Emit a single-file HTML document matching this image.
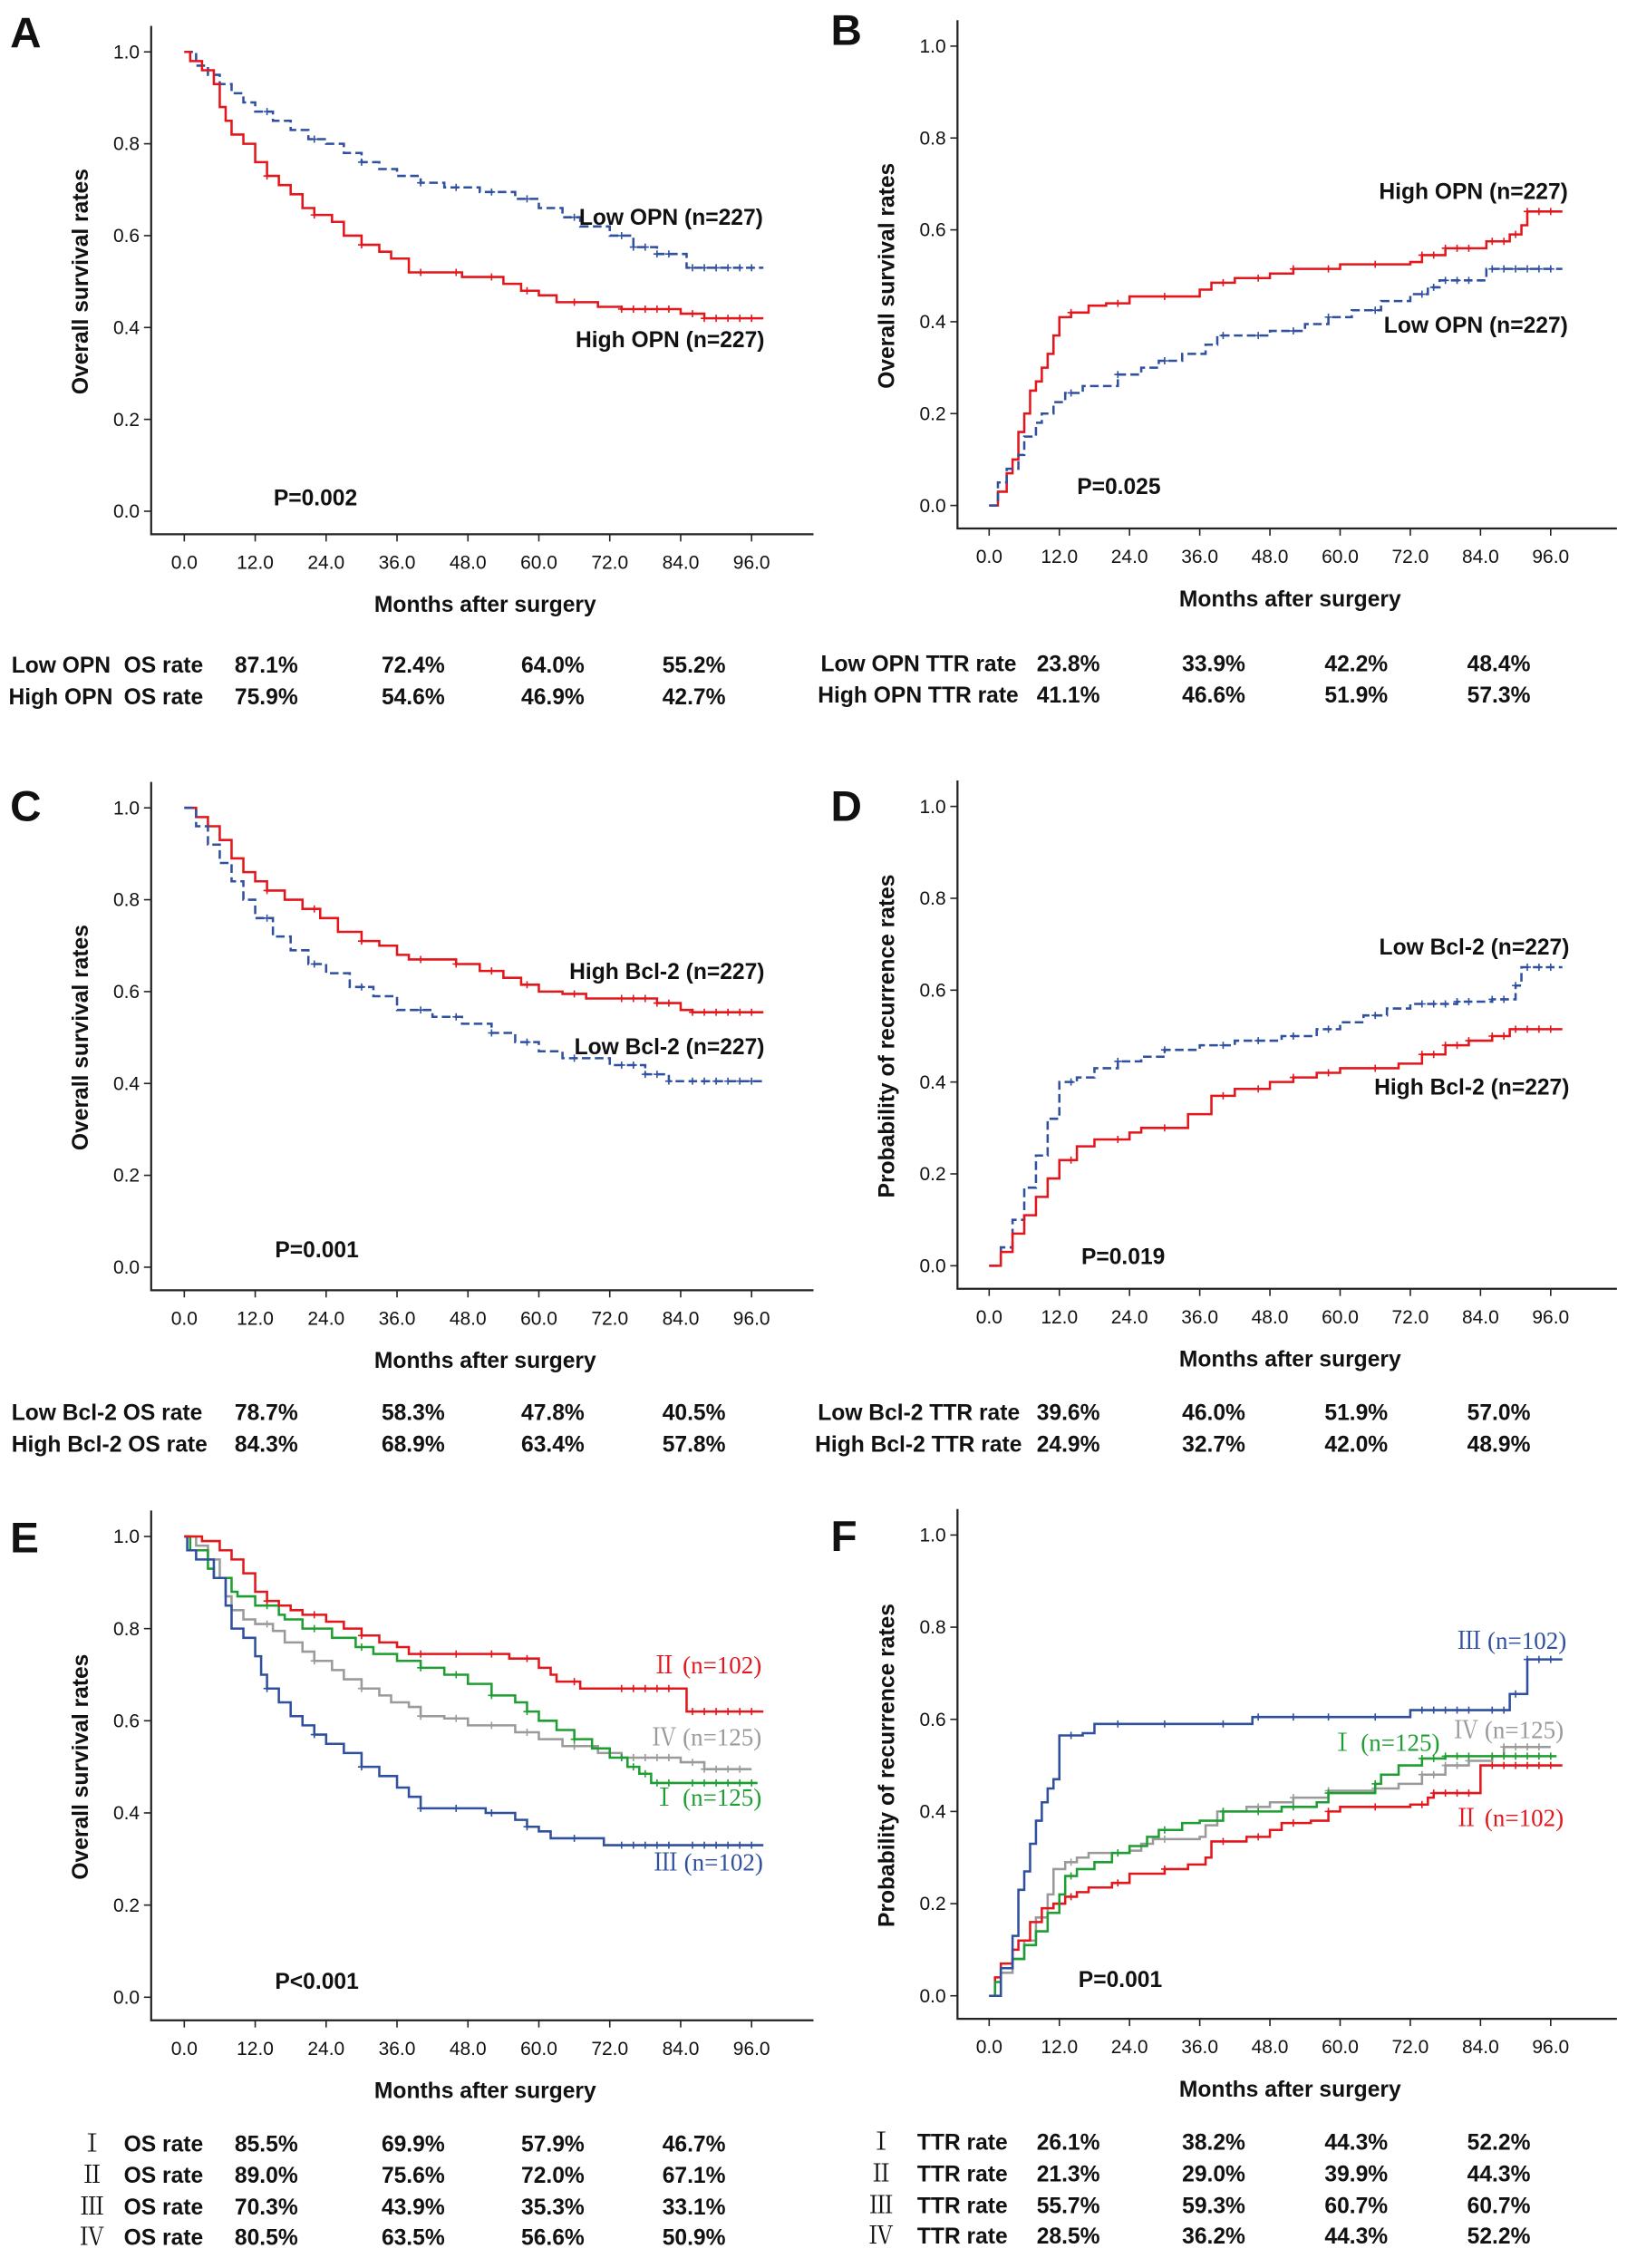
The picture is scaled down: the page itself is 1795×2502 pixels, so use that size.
<!DOCTYPE html>
<html><head><meta charset="utf-8"><style>
html,body{margin:0;padding:0;background:#fff;}
svg{display:block;}
text{font-family:"Liberation Sans",Arial,sans-serif;fill:#111;}
.tk{font-size:13.2px;}
.b{font-weight:bold;}
.rom{font-family:"Liberation Serif","Noto Serif CJK SC",serif;font-weight:normal;}
</style></head><body>
<svg id="fig" width="1795" height="2502" viewBox="0 0 1130 1575" xmlns="http://www.w3.org/2000/svg"></svg>
<script>
// ---------- data ----------
const xTicks = [0,12,24,36,48,60,72,84,96];
const xTickLabels = ["0.0","12.0","24.0","36.0","48.0","60.0","72.0","84.0","96.0"];
const yTicks = [0,0.2,0.4,0.6,0.8,1.0];
const yTickLabels = ["0.0","0.2","0.4","0.6","0.8","1.0"];

const aLowT = [0,2,4,6,8,10,12,15,18,21,24,27,30,33,36,40,44,50,56,60,64,67,72,76,80,85,98];
const aLowV = [1,0.97,0.95,0.93,0.91,0.89,0.87,0.85,0.83,0.81,0.80,0.78,0.76,0.745,0.73,0.715,0.705,0.695,0.68,0.66,0.64,0.62,0.60,0.575,0.56,0.53,0.53];
const aHighT = [0,1,3,5,6,7,8,10,12,14,16,18,20,22,25,27,30,33,35,38,47,54,57,60,63,70,74,84,88,98];
const aHighV = [1,0.98,0.96,0.93,0.88,0.85,0.82,0.80,0.76,0.73,0.71,0.69,0.66,0.645,0.63,0.60,0.58,0.565,0.55,0.52,0.51,0.495,0.48,0.47,0.455,0.445,0.44,0.43,0.42,0.42];

const bHighT = [0,1.5,3,4,5,6,7,8,9,10,11,12,14,17,20,24,36,38,42,48,52,60,72,74,78,85,89,91,92,98];
const bHighV = [0,0.03,0.07,0.10,0.16,0.20,0.25,0.27,0.30,0.33,0.37,0.41,0.42,0.435,0.44,0.455,0.47,0.485,0.495,0.505,0.515,0.525,0.53,0.545,0.56,0.575,0.59,0.61,0.64,0.64];
const bLowT = [0,1.5,3,5,6,8,9,11,13,16,22,26,29,33,37,39,48,54,58,62,67,72,75,77,85,98];
const bLowV = [0,0.05,0.08,0.11,0.15,0.18,0.20,0.225,0.245,0.26,0.285,0.30,0.315,0.33,0.35,0.37,0.38,0.395,0.41,0.425,0.445,0.46,0.475,0.49,0.515,0.515];

const cHighT = [0,2,4,6,8,10,12,14,17,20,23,26,30,33,36,38,46,50,54,57,60,64,68,80,84,86,98];
const cHighV = [1,0.98,0.96,0.93,0.89,0.86,0.84,0.82,0.80,0.78,0.76,0.73,0.71,0.70,0.68,0.67,0.66,0.645,0.63,0.615,0.60,0.595,0.585,0.575,0.56,0.555,0.555];
const cLowT = [0,2,4,6,8,10,12,15,18,21,24,28,32,36,42,47,52,56,60,64,72,78,82,98];
const cLowV = [1,0.96,0.92,0.88,0.84,0.80,0.76,0.72,0.69,0.66,0.64,0.61,0.59,0.56,0.545,0.53,0.51,0.49,0.47,0.455,0.44,0.42,0.405,0.405];

const dLowT = [0,2,4,6,8,10,12,15,18,22,26,30,36,42,50,56,60,64,68,72,80,86,90,91,98];
const dLowV = [0,0.04,0.10,0.17,0.24,0.32,0.40,0.41,0.43,0.445,0.455,0.47,0.48,0.49,0.50,0.515,0.53,0.545,0.56,0.57,0.575,0.58,0.61,0.65,0.65];
const dHighT = [0,2,4,6,8,10,12,15,18,24,26,34,38,42,48,52,56,60,70,74,78,82,86,89,98];
const dHighV = [0,0.03,0.07,0.11,0.15,0.19,0.23,0.26,0.275,0.29,0.30,0.33,0.37,0.385,0.40,0.41,0.42,0.43,0.44,0.46,0.48,0.49,0.50,0.515,0.515];

const e2T = [0,3,6,8,10,12,14,16,18,20,24,27,30,33,36,38,55,60,62,63,67,85,98];
const e2V = [1,0.99,0.97,0.95,0.92,0.88,0.86,0.85,0.84,0.83,0.815,0.80,0.785,0.77,0.76,0.745,0.735,0.715,0.70,0.685,0.67,0.62,0.62];
const e1T = [0,1,4,5,8,9,12,16,17,20,25,29,32,36,40,44,48,52,56,58,60,63,66,69,72,75,77,79,97];
const e1V = [1,0.97,0.93,0.91,0.88,0.87,0.85,0.83,0.82,0.80,0.78,0.76,0.745,0.73,0.715,0.70,0.68,0.655,0.64,0.62,0.60,0.58,0.56,0.54,0.52,0.50,0.485,0.465,0.465];
const e4T = [0,2,4,6,7,8,10,12,15,17,20,22,25,27,30,33,35,38,40,44,48,56,60,64,70,74,84,88,96];
const e4V = [1,0.98,0.95,0.91,0.87,0.84,0.82,0.81,0.795,0.77,0.75,0.73,0.71,0.69,0.67,0.655,0.64,0.63,0.61,0.605,0.59,0.575,0.56,0.545,0.53,0.52,0.51,0.495,0.495];
const e3T = [0,0.5,2,5,7,8,10,12,13,14,16,18,20,22,24,27,30,33,36,38,40,51,56,58,60,62,71,98];
const e3V = [1,0.97,0.95,0.91,0.85,0.80,0.78,0.74,0.70,0.67,0.64,0.61,0.59,0.57,0.55,0.53,0.50,0.48,0.455,0.435,0.41,0.40,0.385,0.37,0.36,0.345,0.33,0.33];

const f3T = [0,2,4,5,6,7,8,9,10,11,12,16,18,45,72,89,92,98];
const f3V = [0,0.06,0.13,0.23,0.27,0.33,0.38,0.42,0.45,0.47,0.565,0.57,0.59,0.605,0.62,0.655,0.73,0.73];
const f1T = [0,1,2,4,6,8,10,12,13,15,18,21,24,27,29,33,36,40,50,56,58,66,67,70,74,78,97];
const f1V = [0,0.03,0.06,0.08,0.11,0.14,0.18,0.22,0.26,0.275,0.29,0.31,0.325,0.345,0.36,0.375,0.38,0.40,0.41,0.42,0.44,0.46,0.48,0.50,0.515,0.52,0.52];
const f4T = [0,2,4,6,8,10,11,13,15,17,24,26,28,36,37,39,44,48,52,58,66,70,74,78,82,86,88,96];
const f4V = [0,0.05,0.08,0.12,0.17,0.22,0.275,0.29,0.30,0.31,0.315,0.33,0.34,0.345,0.37,0.40,0.41,0.42,0.43,0.445,0.45,0.46,0.48,0.50,0.51,0.52,0.54,0.54];
const f2T = [0,1,2,4,5,7,9,11,13,15,17,21,24,30,34,37,38,44,48,50,55,58,60,72,75,76,84,98];
const f2V = [0,0.04,0.07,0.10,0.12,0.16,0.19,0.20,0.215,0.225,0.235,0.245,0.265,0.275,0.285,0.30,0.335,0.345,0.36,0.375,0.38,0.40,0.41,0.415,0.43,0.44,0.50,0.50];

const censorA = [14,22,30,40,46,52,58,66,74,76,78,80,82,86,88,90,92,94,96];

// ---------- drawing ----------
const NS = "http://www.w3.org/2000/svg";
const svg = document.getElementById("fig");
function el(tag, attrs, parent){
  const e = document.createElementNS(NS, tag);
  for (const k in attrs) e.setAttribute(k, attrs[k]);
  (parent||svg).appendChild(e);
  return e;
}
function txt(s, x, y, cls, anchor, parent, extra){
  const t = el("text", Object.assign({x:x, y:y, class:cls||"", "text-anchor":anchor||"start"}, extra||{}), parent);
  t.textContent = s;
  return t;
}
const RED="#e3161c", BLUE="#2f4f9f", GREEN="#1e9e32", GRAY="#9a9a9a";
const FS = "15.5";

function makePanel(p){
  const g = el("g", {});
  
  
  const sx = t => p.x0 + (p.x96 - p.x0) * t / 96;
  const sy = v => p.y0 + (p.y1 - p.y0) * v;
  const ax = el("path", {d:`M${p.ax} ${p.top} V${p.axY} H${p.right}`, fill:"none", stroke:"#222", "stroke-width":1.4}, g);
  
  
  yTicks.forEach((v,i)=>{
    el("line",{x1:p.ax-5,x2:p.ax,y1:sy(v),y2:sy(v),stroke:"#222","stroke-width":1},g);
    const t = txt(yTickLabels[i], p.ax-8, sy(v)+4.5, "tk", "end", g);
    
    
  });
  xTicks.forEach((m,i)=>{
    el("line",{x1:sx(m),x2:sx(m),y1:p.axY,y2:p.axY+5,stroke:"#222","stroke-width":1},g);
    const t = txt(xTickLabels[i], sx(m), p.axY+24, "tk", "middle", g);
    
    
  });
  const xt = txt("Months after surgery", (p.ax+p.right)/2+2, p.axY+54, "b", "middle", g, {"font-size":FS});
  
  
  const yc = (p.y0+p.y1)/2;
  const yt = txt(p.ytitle, p.ax-44, yc, "b", "middle", g, {"font-size":FS, transform:`rotate(-90 ${p.ax-44} ${yc})`});
  
  
  const lt = txt(p.letter, p.letterX, p.letterY, "b", "start", g, {"font-size":"30"});
  
  
  const pv = txt(p.pval, p.pvX, p.pvY, "b", "start", g, {"font-size":FS});
  
  
  p.series.forEach(s=>{
    let d = `M${sx(s.t[0])} ${sy(s.v[0])}`;
    for (let i=1;i<s.t.length;i++){
      d += ` H${sx(s.t[i])} V${sy(s.v[i])}`;
    }
    const path = el("path",{d:d, fill:"none", stroke:s.color, "stroke-width":1.6}, g);
    if (s.dash) path.setAttribute("stroke-dasharray","6 3");
    
    
    censorA.forEach(c=>{
      if (c >= s.t[s.t.length-1]) return;
      let v = s.v[0];
      for (let i=0;i<s.t.length;i++){ if (s.t[i] <= c) v = s.v[i]; }
      const m = el("path",{d:`M${sx(c)-2.5} ${sy(v)} h5 M${sx(c)} ${sy(v)-2.5} v5`, stroke:s.color, "stroke-width":1}, g);
      
      
    });
    const lab = txt(s.label, s.lx, s.ly, s.roman ? "rom" : "b", "end", g, {"font-size": s.roman ? "17" : FS});
    lab.style.fill = s.roman ? s.color : "#111";
    
    
  });
  p.rows.forEach((r,i)=>{
    const y = p.tableY[i];
    if (r.roman){
      const rt = txt(r.roman, r.rx, y, "rom", "middle", g, {"font-size":"17"});
      
      
    }
    const l = txt(r.label, r.lx, y, "b", "start", g, {"font-size":FS});
    
    
    if (r.label2){
      const l2 = txt(r.label2, r.l2x, y, "b", "start", g, {"font-size":FS});
      
      
    }
    r.vals.forEach((v,j)=>{
      const c = txt(v, p.cols[j], y, "b", "start", g, {"font-size":FS});
      
      
    });
  });
}

const L = {ax:105, x0:128, x96:522, right:565, cols:[163,265,362,460]};
const R = {ax:665, x0:687, x96:1077, right:1123, cols:[720,821,920,1019]};

makePanel(Object.assign({}, L, {name:"panel-a", top:18, y1:36, y0:355, axY:371, letter:"A", letterX:7, letterY:33,
  ytitle:"Overall survival rates", pval:"P=0.002", pvX:190, pvY:351,
  series:[
    {name:"low-opn", t:aLowT, v:aLowV, color:BLUE, dash:true, label:"Low OPN (n=227)", lx:530, ly:156},
    {name:"high-opn", t:aHighT, v:aHighV, color:RED, label:"High OPN (n=227)", lx:531, ly:241}],
  tableY:[467,489],
  rows:[{label:"Low OPN", lx:8, label2:"OS rate", l2x:86, vals:["87.1%","72.4%","64.0%","55.2%"]},
        {label:"High OPN", lx:6, label2:"OS rate", l2x:86, vals:["75.9%","54.6%","46.9%","42.7%"]}]}));

makePanel(Object.assign({}, R, {name:"panel-b", top:14, y1:32, y0:351, axY:367, letter:"B", letterX:577, letterY:31,
  ytitle:"Overall survival rates", pval:"P=0.025", pvX:748, pvY:343,
  series:[
    {name:"high-opn", t:bHighT, v:bHighV, color:RED, label:"High OPN (n=227)", lx:1089, ly:138},
    {name:"low-opn", t:bLowT, v:bLowV, color:BLUE, dash:true, label:"Low OPN (n=227)", lx:1089, ly:231}],
  tableY:[466,488],
  rows:[{label:"Low OPN TTR rate", lx:570, vals:["23.8%","33.9%","42.2%","48.4%"]},
        {label:"High OPN TTR rate", lx:568, vals:["41.1%","46.6%","51.9%","57.3%"]}]}));

makePanel(Object.assign({}, L, {name:"panel-c", top:543, y1:561, y0:880, axY:896, letter:"C", letterX:7, letterY:570,
  ytitle:"Overall survival rates", pval:"P=0.001", pvX:191, pvY:873,
  series:[
    {name:"high-bcl2", t:cHighT, v:cHighV, color:RED, label:"High Bcl-2 (n=227)", lx:531, ly:680},
    {name:"low-bcl2", t:cLowT, v:cLowV, color:BLUE, dash:true, label:"Low Bcl-2 (n=227)", lx:531, ly:732}],
  tableY:[986,1008],
  rows:[{label:"Low Bcl-2 OS rate", lx:8, vals:["78.7%","58.3%","47.8%","40.5%"]},
        {label:"High Bcl-2 OS rate", lx:8, vals:["84.3%","68.9%","63.4%","57.8%"]}]}));

makePanel(Object.assign({}, R, {name:"panel-d", top:542, y1:560, y0:879, axY:895, letter:"D", letterX:577, letterY:570,
  ytitle:"Probability of recurrence rates", pval:"P=0.019", pvX:751, pvY:878,
  series:[
    {name:"low-bcl2", t:dLowT, v:dLowV, color:BLUE, dash:true, label:"Low Bcl-2 (n=227)", lx:1090, ly:663},
    {name:"high-bcl2", t:dHighT, v:dHighV, color:RED, label:"High Bcl-2 (n=227)", lx:1090, ly:760}],
  tableY:[986,1008],
  rows:[{label:"Low Bcl-2 TTR rate", lx:568, vals:["39.6%","46.0%","51.9%","57.0%"]},
        {label:"High Bcl-2 TTR rate", lx:566, vals:["24.9%","32.7%","42.0%","48.9%"]}]}));

makePanel(Object.assign({}, L, {name:"panel-e", top:1049, y1:1067, y0:1387, axY:1403, letter:"E", letterX:7, letterY:1078,
  ytitle:"Overall survival rates", pval:"P<0.001", pvX:191, pvY:1381,
  series:[
    {name:"group-iv", t:e4T, v:e4V, color:GRAY, roman:true, label:"Ⅳ (n=125)", lx:529, ly:1212},
    {name:"group-i", t:e1T, v:e1V, color:GREEN, roman:true, label:"Ⅰ (n=125)", lx:529, ly:1254},
    {name:"group-iii", t:e3T, v:e3V, color:BLUE, roman:true, label:"Ⅲ (n=102)", lx:530, ly:1299},
    {name:"group-ii", t:e2T, v:e2V, color:RED, roman:true, label:"Ⅱ (n=102)", lx:529, ly:1162}],
  tableY:[1494,1516,1538,1559],
  rows:[{roman:"Ⅰ", rx:64, label:"OS rate", lx:86, vals:["85.5%","69.9%","57.9%","46.7%"]},
        {roman:"Ⅱ", rx:64, label:"OS rate", lx:86, vals:["89.0%","75.6%","72.0%","67.1%"]},
        {roman:"Ⅲ", rx:64, label:"OS rate", lx:86, vals:["70.3%","43.9%","35.3%","33.1%"]},
        {roman:"Ⅳ", rx:64, label:"OS rate", lx:86, vals:["80.5%","63.5%","56.6%","50.9%"]}]}));

makePanel(Object.assign({}, R, {name:"panel-f", top:1048, y1:1066, y0:1386, axY:1402, letter:"F", letterX:577, letterY:1077,
  ytitle:"Probability of recurrence rates", pval:"P=0.001", pvX:749, pvY:1380,
  series:[
    {name:"group-iv", t:f4T, v:f4V, color:GRAY, roman:true, label:"Ⅳ (n=125)", lx:1086, ly:1207},
    {name:"group-ii", t:f2T, v:f2V, color:RED, roman:true, label:"Ⅱ (n=102)", lx:1086, ly:1268},
    {name:"group-i", t:f1T, v:f1V, color:GREEN, roman:true, label:"Ⅰ (n=125)", lx:1000, ly:1216},
    {name:"group-iii", t:f3T, v:f3V, color:BLUE, roman:true, label:"Ⅲ (n=102)", lx:1088, ly:1145}],
  tableY:[1493,1515,1537,1558],
  rows:[{roman:"Ⅰ", rx:612, label:"TTR rate", lx:637, vals:["26.1%","38.2%","44.3%","52.2%"]},
        {roman:"Ⅱ", rx:612, label:"TTR rate", lx:637, vals:["21.3%","29.0%","39.9%","44.3%"]},
        {roman:"Ⅲ", rx:612, label:"TTR rate", lx:637, vals:["55.7%","59.3%","60.7%","60.7%"]},
        {roman:"Ⅳ", rx:612, label:"TTR rate", lx:637, vals:["28.5%","36.2%","44.3%","52.2%"]}]}));
</script>
</body></html>
